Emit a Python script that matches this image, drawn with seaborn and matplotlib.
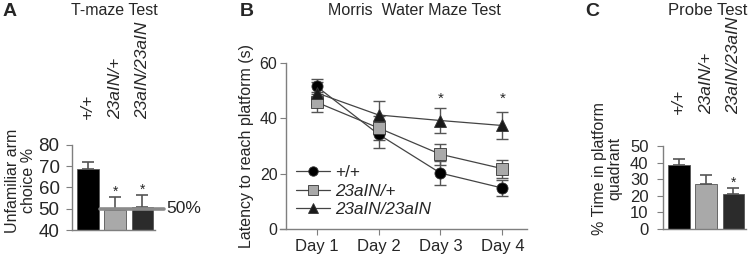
import numpy as np
import pandas as pd
import matplotlib
matplotlib.use("Agg")
import matplotlib.pyplot as plt
import seaborn as sns

sns.set_style("white")
plt.rcParams['font.family'] = ['Liberation Sans', 'DejaVu Sans']

genotypes = ["+/+", "23aIN/+", "23aIN/23aIN"]
bar_colors = ["#000000", "#a9a9a9", "#2b2b2b"]

# T-maze
tmaze_mean = [68.5, 49.2, 51.0]
tmaze_err = [3.6, 6.2, 5.3]
tmaze_sig = ["", "*", "*"]

# Morris water maze
days = ["Day 1", "Day 2", "Day 3", "Day 4"]
mwm_wt = [51.5, 34.2, 20.2, 14.8]
mwm_wt_err = [2.8, 4.8, 4.2, 3.0]
mwm_het = [45.8, 36.5, 27.0, 21.8]
mwm_het_err = [3.6, 4.5, 3.8, 3.3]
mwm_hom = [49.2, 41.2, 39.2, 37.4]
mwm_hom_err = [4.0, 4.9, 4.5, 4.7]
mwm_sig = ["", "", "*", "*"]

# probe test
probe_mean = [38.5, 26.8, 21.2]
probe_err = [3.8, 5.5, 3.6]
probe_sig = ["", "", "*"]

spine_c = "#7f7f7f"
fig = plt.figure(figsize=(7.5, 2.57), dpi=100)


def style_axes(ax, fs, pad=2):
    for s in ["top", "right"]:
        ax.spines[s].set_visible(False)
    for s in ["left", "bottom"]:
        ax.spines[s].set_color(spine_c)
        ax.spines[s].set_linewidth(1.0)
    ax.tick_params(axis="y", length=4, color=spine_c, labelsize=fs, pad=pad, left=True)


def bar_panel(ax, means, errs, sig, ylim, yticks, pad, fs_y, fs_x, ypad):
    df = pd.DataFrame({"g": genotypes, "v": means})
    sns.barplot(data=df, x="g", y="v", hue="g", palette=bar_colors, legend=False,
                width=0.8, edgecolor="#555555", linewidth=0.6, ax=ax)
    ax.errorbar(range(3), means, yerr=[np.zeros(3), errs], fmt="none",
                ecolor="#555555", elinewidth=1.2, capsize=4, capthick=1.2)
    for i, s in enumerate(sig):
        if s:
            ax.text(i, means[i] + errs[i] + (ylim[1] - ylim[0]) * 0.06, s,
                    ha="center", va="center", fontsize=10)
    ax.set_ylim(*ylim)
    ax.set_yticks(yticks)
    ax.set_xlim(-0.58, 2.47)
    style_axes(ax, fs_y, pad=ypad)
    ax.xaxis.tick_top()
    ax.tick_params(axis="x", length=0, pad=pad, labelsize=fs_x)
    ax.set_xticks(range(3))
    ax.set_xticklabels(genotypes, rotation=90, style="italic")
    ax.set_xlabel("")
    ax.set_ylabel("")


# Panel A
axA = fig.add_axes([0.096, 0.105, 0.111, 0.331])
bar_panel(axA, tmaze_mean, tmaze_err, tmaze_sig, (40, 80), [40, 50, 60, 70, 80], 19, 13.5, 12.5, 5)
axA.plot([0.45, 2.78], [50, 50], color="#8a8a8a", lw=2.6, clip_on=False, zorder=5)
axA.text(2.86, 50, "50%", ha="left", va="center", fontsize=12.5)
axA.set_ylabel("Unfamiliar arm\nchoice %", fontsize=11.5, labelpad=2, linespacing=1.1)
axA.yaxis.label.set_y(0.58)
fig.text(0.004, 0.955, "A", fontsize=14, fontweight="bold", va="center")
fig.text(0.153, 0.96, "T-maze Test", fontsize=11.5, ha="center", va="center")

# Panel C
axC = fig.add_axes([0.884, 0.109, 0.111, 0.323])
bar_panel(axC, probe_mean, probe_err, probe_sig, (0, 50), [0, 10, 20, 30, 40, 50], 23, 12, 12.5, 6.5)
axC.set_ylabel("% Time in platform\nquadrant", fontsize=11.5, labelpad=5,
               linespacing=1.1)
axC.yaxis.label.set_y(0.73)
fig.text(0.78, 0.955, "C", fontsize=14, fontweight="bold", va="center")
fig.text(0.943, 0.96, "Probe Test", fontsize=12, ha="center", va="center")

# Panel B
axB = fig.add_axes([0.381, 0.109, 0.321, 0.646])
x = np.arange(1, 5)
series = [
    (mwm_wt, mwm_wt_err, "+/+", "o", "#000000", "normal"),
    (mwm_het, mwm_het_err, "23aIN/+", "s", "#a9a9a9", "italic"),
    (mwm_hom, mwm_hom_err, "23aIN/23aIN", "^", "#1a1a1a", "italic"),
]
for vals, errs, lab, mk, col, _ in series:
    axB.errorbar(x, vals, yerr=errs, fmt="none", ecolor="#555555",
                 elinewidth=1.0, capsize=4, capthick=1.0, zorder=2)
    sns.lineplot(x=x, y=vals, marker=mk, color="#444444", markerfacecolor=col,
                 markeredgecolor="#333333", markeredgewidth=0.6, markersize=8,
                 linewidth=0.9, label=lab, ax=axB, zorder=3)
for i, s in enumerate(mwm_sig):
    if s:
        axB.text(x[i], 47, s, ha="center", va="center", fontsize=11)
axB.set_xlim(0.5, 4.39)
axB.set_ylim(0, 60)
axB.set_yticks([0, 20, 40, 60])
axB.set_xticks(x)
axB.set_xticklabels(days)
style_axes(axB, 11.5)
axB.spines["bottom"].set_bounds(0.4, 4.39)
axB.tick_params(axis="x", length=4, color=spine_c, labelsize=12, pad=3, bottom=True)
axB.set_ylabel("Latency to reach platform (s)", fontsize=11.5, labelpad=4)
leg = axB.legend(loc="lower left", bbox_to_anchor=(0.0, 0.01), frameon=False,
                 fontsize=12.3, handlelength=2.0, handletextpad=0.3, labelspacing=0.2,
                 borderaxespad=0.2, markerscale=0.85)
for t, s in zip(leg.get_texts(), series):
    t.set_style(s[5])
fig.text(0.32, 0.955, "B", fontsize=14, fontweight="bold", va="center")
fig.text(0.552, 0.96, "Morris  Water Maze Test", fontsize=11.5, ha="center", va="center")

fig.savefig("out.png", dpi=100)
